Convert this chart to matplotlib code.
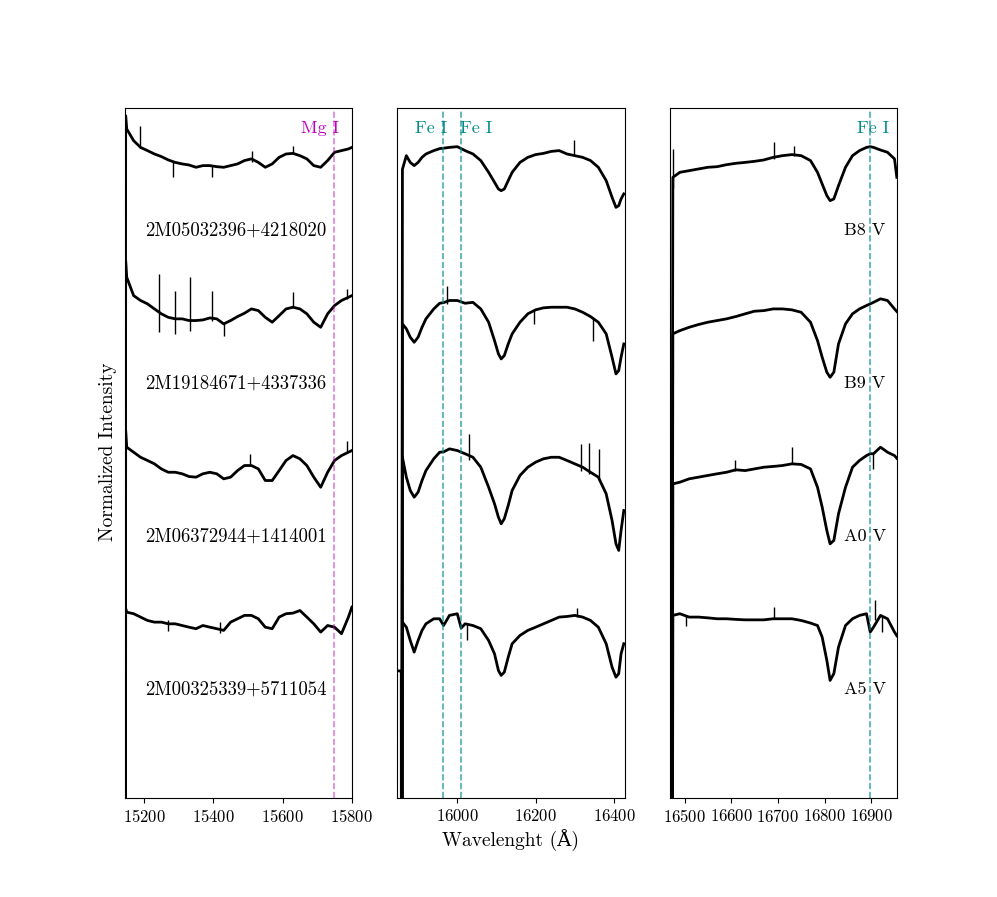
import matplotlib
matplotlib.use("Agg")
import matplotlib.pyplot as plt

plt.rcParams["font.family"] = ["cmr10", "DejaVu Serif"]
plt.rcParams["mathtext.fontset"] = "cm"
plt.rcParams["axes.formatter.use_mathtext"] = True

# ---- left panel: APOGEE targets ----
left_names = ["2M05032396+4218020", "2M19184671+4337336",
              "2M06372944+1414001", "2M00325339+5711054"]
left_wave = [15145, 15147] + list(range(15150, 15791, 20)) + [15800]
left_flux_1 = [-5, 1.30, 1.214, 1.137, 1.093, 1.072, 1.050, 1.033, 1.011, 0.995, 0.985, 0.978,
               0.963, 0.974, 0.974, 0.967, 0.963, 0.974, 0.985, 1.007, 1.018, 0.995,
               0.963, 0.985, 1.028, 1.050, 1.054, 1.039, 1.018, 0.974, 0.963, 1.007,
               1.061, 1.072, 1.083, 1.093]
left_flux_2 = [-5, 1.353, 1.244, 1.124, 1.092, 1.070, 1.037, 1.005, 0.982, 0.972, 0.972, 0.961,
               0.961, 0.965, 0.978, 0.972, 0.939, 0.961, 0.987, 1.009, 1.037, 1.026,
               0.982, 0.950, 0.993, 1.037, 1.048, 1.037, 1.005, 0.950, 0.917, 1.005,
               1.059, 1.092, 1.113, 1.124]
left_flux_3 = [-5, 1.242, 1.133, 1.100, 1.067, 1.046, 1.024, 0.991, 0.969, 0.969, 0.959, 0.941,
               0.937, 0.959, 0.969, 0.959, 0.926, 0.937, 0.980, 1.013, 1.013, 0.991,
               0.915, 0.915, 0.980, 1.046, 1.078, 1.057, 1.013, 0.937, 0.871, 0.969,
               1.046, 1.078, 1.100, 1.111]
left_flux_4 = [-5, 1.078, 1.054, 1.044, 1.022, 1.000, 0.989, 0.989, 0.978, 0.978, 0.967, 0.956,
               0.946, 0.967, 0.956, 0.946, 0.935, 0.989, 1.011, 1.033, 1.033, 1.011,
               0.956, 0.946, 1.022, 1.044, 1.048, 1.065, 1.022, 0.978, 0.924, 0.967,
               0.956, 0.913, 1.022, 1.087]
left_spike_row = [0, 0, 0, 0, 0, 1, 1, 1, 1, 1, 1, 1, 2, 2, 3, 3]
left_spike_wave = [15188, 15284, 15396, 15511, 15631, 15244, 15290, 15333, 15396, 15432,
                   15631, 15786, 15506, 15787, 15270, 15420]
left_spike_lo = [1.09, 0.897, 0.902, 1.00, 1.05, 0.884, 0.874, 0.895, 0.96, 0.863,
                 1.04, 1.10, 1.02, 1.10, 0.93, 0.92]
left_spike_hi = [1.235, 1.00, 0.975, 1.072, 1.105, 1.266, 1.152, 1.248, 1.152, 0.95,
                 1.146, 1.168, 1.09, 1.176, 1.00, 0.99]

# ---- middle panel ----
mid_wave = [15848, 15857, 15858, 15860, 15870, 15880, 15890, 15900, 15910, 15920, 15940,
            15955, 15965, 15980, 16000, 16010, 16020, 16040, 16060, 16080, 16095, 16105,
            16112, 16120, 16130, 16140, 16160, 16180, 16200, 16220, 16240, 16260, 16280,
            16300, 16320, 16340, 16360, 16380, 16395, 16405, 16412, 16418, 16425]
mid_flux_1 = [-5, -5, -5, 0.95, 1.039, 0.995, 0.974, 0.995, 1.028, 1.050, 1.072, 1.085, 1.088,
              1.093, 1.098, 1.085, 1.072, 1.050, 1.007, 0.930, 0.865, 0.821, 0.810, 0.821,
              0.876, 0.930, 0.995, 1.028, 1.046, 1.054, 1.067, 1.072, 1.050, 1.039, 1.028,
              1.007, 0.963, 0.876, 0.767, 0.701, 0.712, 0.756, 0.789]
mid_flux_2 = [-5, -5, -5, 0.939, 0.907, 0.852, 0.819, 0.852, 0.917, 0.972, 1.037, 1.074, 1.078,
              1.092, 1.092, 1.083, 1.074, 1.080, 1.037, 0.950, 0.830, 0.743, 0.710, 0.732,
              0.808, 0.874, 0.950, 1.005, 1.031, 1.044, 1.048, 1.048, 1.048, 1.037, 1.015,
              0.987, 0.950, 0.874, 0.721, 0.612, 0.634, 0.721, 0.808]
mid_flux_3 = [-5, -5, -5, 1.067, 0.937, 0.850, 0.806, 0.839, 0.915, 0.980, 1.057, 1.100, 1.102,
              1.122, 1.111, 1.100, 1.090, 1.067, 1.002, 0.871, 0.763, 0.675, 0.632, 0.665,
              0.752, 0.850, 0.948, 1.002, 1.035, 1.057, 1.067, 1.067, 1.046, 1.024, 1.002,
              0.969, 0.937, 0.828, 0.654, 0.501, 0.458, 0.588, 0.719]
mid_flux_4 = [0.67, 0.67, -5, 0.989, 0.956, 0.869, 0.793, 0.869, 0.935, 0.978, 1.011, 1.011,
              0.967, 1.033, 1.044, 0.950, 0.978, 0.967, 0.946, 0.869, 0.782, 0.673, 0.641,
              0.662, 0.760, 0.848, 0.902, 0.935, 0.956, 0.978, 1.000, 1.022, 1.026, 1.033,
              1.022, 1.000, 0.956, 0.848, 0.695, 0.629, 0.652, 0.782, 0.848]
mid_spike_row = [0, 1, 1, 1, 2, 2, 2, 2, 3, 3]
mid_spike_wave = [16298, 15973, 16196, 16347, 16030, 16315, 16336, 16362, 16305, 16025]
mid_spike_lo = [1.04, 1.07, 0.94, 0.83, 1.05, 0.98, 0.96, 0.92, 1.02, 0.87]
mid_spike_hi = [1.14, 1.19, 1.03, 0.98, 1.22, 1.155, 1.16, 1.12, 1.08, 0.98]

# ---- right panel: spectral standards ----
right_types = ["B8 V", "B9 V", "A0 V", "A5 V"]
right_wave = [16472, 16475, 16490, 16510, 16530, 16550, 16570, 16590, 16610, 16630, 16650,
              16670, 16690, 16710, 16730, 16750, 16770, 16785, 16795, 16805, 16812, 16820,
              16830, 16845, 16860, 16875, 16890, 16898, 16905, 16920, 16935, 16950, 16955]
right_flux_1 = [-5, 0.897, 0.930, 0.941, 0.952, 0.963, 0.967, 0.980, 0.989, 0.995, 1.002,
                1.011, 1.028, 1.039, 1.046, 1.039, 1.007, 0.930, 0.854, 0.778, 0.745, 0.756,
                0.843, 0.963, 1.039, 1.072, 1.093, 1.098, 1.093, 1.076, 1.061, 1.018, 0.897]
right_flux_2 = [-5, 0.874, 0.895, 0.917, 0.935, 0.950, 0.961, 0.972, 0.987, 1.005, 1.022,
                1.026, 1.037, 1.037, 1.031, 1.015, 0.950, 0.830, 0.721, 0.623, 0.590, 0.623,
                0.808, 0.939, 1.005, 1.037, 1.059, 1.070, 1.080, 1.103, 1.092, 1.037, 1.02]
right_flux_3 = [-5, 0.893, 0.904, 0.926, 0.937, 0.948, 0.959, 0.969, 0.985, 0.980, 0.991,
                1.002, 1.007, 1.013, 1.024, 1.020, 0.991, 0.871, 0.741, 0.588, 0.501, 0.523,
                0.697, 0.871, 1.002, 1.046, 1.078, 1.090, 1.090, 1.133, 1.100, 1.078, 1.06]
right_flux_4 = [-5, 1.033, 1.044, 1.022, 1.022, 1.017, 1.011, 1.011, 1.007, 1.004, 1.004,
                1.004, 1.011, 1.011, 1.011, 1.000, 0.983, 0.967, 0.891, 0.739, 0.608, 0.652,
                0.826, 0.967, 1.011, 1.033, 1.044, 0.924, 0.956, 1.033, 1.011, 0.924, 0.90]
right_spike_row = [0, 0, 0, 2, 2, 2, 3, 3, 3, 3]
right_spike_wave = [16474.5, 16691, 16734, 16608, 16730, 16903, 16909, 16923, 16691, 16503]
right_spike_lo = [0.83, 1.02, 1.04, 0.98, 1.02, 0.991, 1.00, 0.924, 1.01, 0.967]
right_spike_hi = [1.08, 1.126, 1.105, 1.046, 1.133, 1.09, 1.131, 1.03, 1.087, 1.03]

offsets = [3, 2, 1, 0]
ylims = (-0.163, 4.353)

mg_line = 15749
fe_lines_mid = [15964, 16009]
fe_line_right = 16898

fig, axes = plt.subplots(1, 3, figsize=(9.97, 8.97), dpi=100)

panels = [
    (axes[0], left_wave, [left_flux_1, left_flux_2, left_flux_3, left_flux_4],
     (left_spike_row, left_spike_wave, left_spike_lo, left_spike_hi), (15144, 15800),
     [15200, 15400, 15600, 15800]),
    (axes[1], mid_wave, [mid_flux_1, mid_flux_2, mid_flux_3, mid_flux_4],
     (mid_spike_row, mid_spike_wave, mid_spike_lo, mid_spike_hi), (15847, 16427),
     [16000, 16200, 16400]),
    (axes[2], right_wave, [right_flux_1, right_flux_2, right_flux_3, right_flux_4],
     (right_spike_row, right_spike_wave, right_spike_lo, right_spike_hi), (16469, 16956),
     [16500, 16600, 16700, 16800, 16900]),
]

for ax, wave, fluxes, spikes, xl, ticks in panels:
    for flux, off in zip(fluxes, offsets):
        ax.plot(wave, [f + off for f in flux], color="black", lw=2.0)
    rows, sw, lo, hi = spikes
    ax.vlines(sw, [l + offsets[r] for l, r in zip(lo, rows)],
              [h + offsets[r] for h, r in zip(hi, rows)], color="black", lw=1.0)
    ax.set_xlim(*xl)
    ax.set_ylim(*ylims)
    ax.set_xticks(ticks)
    ax.set_yticks([])
    ax.tick_params(labelsize=12)

# line markers
axes[0].axvline(mg_line, color="m", ls="--", lw=1.2, alpha=0.5)
axes[0].text(15708, 4.22, "Mg I", color="m", fontsize=13, ha="center", va="center")
for w in fe_lines_mid:
    axes[1].axvline(w, color="darkcyan", ls="--", lw=1.2, alpha=0.7)
axes[1].text(15932, 4.22, "Fe I", color="darkcyan", fontsize=13, ha="center", va="center")
axes[1].text(16049, 4.22, "Fe I", color="darkcyan", fontsize=13, ha="center", va="center")
axes[2].axvline(fe_line_right, color="darkcyan", ls="--", lw=1.2, alpha=0.7)
axes[2].text(16903, 4.22, "Fe I", color="darkcyan", fontsize=13, ha="center", va="center")

for name, off in zip(left_names, offsets):
    axes[0].text(15466, off + 0.55, name, fontsize=13.5, ha="center", va="center")
for sp, off in zip(right_types, offsets):
    axes[2].text(16886, off + 0.55, sp, fontsize=13, ha="center", va="center")

axes[1].set_xlabel("Wavelenght (Å)", fontsize=14)
fig.text(0.108, 0.496, "Normalized Intensity", fontsize=14, ha="center", va="center",
         rotation=90)

fig.savefig("out.png", dpi=100)
